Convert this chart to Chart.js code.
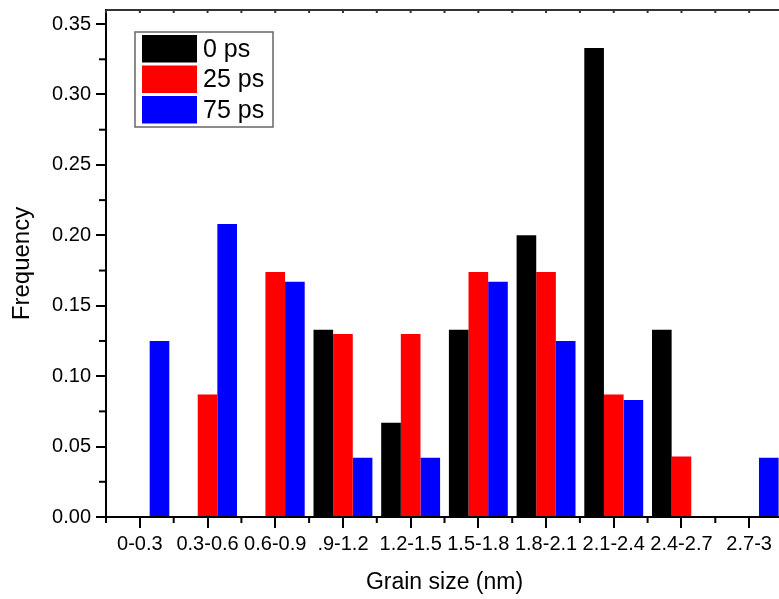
<!DOCTYPE html>
<html>
<head>
<meta charset="utf-8">
<script src="https://cdn.jsdelivr.net/npm/chart.js@4/dist/chart.umd.min.js"></script>
<style>
  html, body { margin: 0; padding: 0; background: #fff; overflow: hidden; }
  #wrap { width: 790px; height: 599px; }
</style>
</head>
<body>
<div id="wrap"><canvas id="barChart" width="790" height="599"></canvas></div>
<script>
// grain size bins
const categories = ['0-0.3', '0.3-0.6', '0.6-0.9', '.9-1.2', '1.2-1.5', '1.5-1.8', '1.8-2.1', '2.1-2.4', '2.4-2.7', '2.7-3'];
const seriesNames = ['0 ps', '25 ps', '75 ps'];
const seriesColors = ['#000000', '#ff0000', '#0000ff'];

// frequency values
const freq0ps = [0, 0, 0, 0.133, 0.067, 0.133, 0.200, 0.333, 0.133, 0];
const freq25ps = [0, 0.087, 0.174, 0.130, 0.130, 0.174, 0.174, 0.087, 0.043, 0];
const freq75ps = [0.125, 0.208, 0.167, 0.042, 0.042, 0.167, 0.125, 0.083, 0, 0.042];

const yTicks = [0, 0.05, 0.10, 0.15, 0.20, 0.25, 0.30, 0.35];

Chart.defaults.font.family = '"Liberation Sans", Arial, sans-serif';
Chart.defaults.color = '#000';

function line(ctx, x1, y1, x2, y2) {
  ctx.beginPath();
  ctx.moveTo(x1, y1);
  ctx.lineTo(x2, y2);
  ctx.stroke();
}

// minor ticks, frame and the boxed legend
const decor = {
  id: 'decor',
  afterDraw(chart) {
    const { ctx, chartArea: a, scales: { x, y } } = chart;
    ctx.save();
    ctx.strokeStyle = '#000';
    ctx.lineWidth = 2;
    // bottom axis line again, over the bars
    line(ctx, a.left - 1, a.bottom, a.right, a.bottom);
    // minor y ticks
    yTicks.forEach(v => {
      const m = v + 0.025;
      if (m > y.max) return;
      const py = y.getPixelForValue(m);
      line(ctx, a.left - 7, py, a.left, py);
    });
    // x ticks between bins
    for (let i = 0; i <= categories.length; i++) {
      const px = x.getPixelForValue(i - 0.5);
      line(ctx, px, a.bottom, px, a.bottom + 6);
    }
    // top and right frame
    ctx.strokeStyle = '#333';
    line(ctx, a.left, a.top, a.right, a.top);
    line(ctx, a.right, a.top, a.right, a.bottom);
    for (let i = 0; i < categories.length * 2; i++) {
      const px = x.getPixelForValue(i / 2 - 0.5);
      line(ctx, px, a.top, px, a.top + 3);
    }

    // legend
    const bx = a.left + 29, by = a.top + 22;
    ctx.strokeStyle = '#666';
    ctx.lineWidth = 1.5;
    ctx.strokeRect(bx, by, 138, 95);
    ctx.font = '25px "Liberation Sans", Arial, sans-serif';
    ctx.textBaseline = 'middle';
    ctx.textAlign = 'left';
    chart.data.datasets.forEach((ds, i) => {
      const ry = by + 3 + i * 30.5;
      ctx.fillStyle = ds.backgroundColor;
      ctx.fillRect(bx + 7, ry, 55, 27.5);
      ctx.fillStyle = '#000';
      ctx.fillText(ds.label, bx + 68, ry + 15);
    });
    ctx.restore();
  }
};

const ctx = document.getElementById('barChart').getContext('2d');
const barChart = new Chart(ctx, {
  type: 'bar',
  data: {
    labels: categories,
    datasets: [
      { label: seriesNames[0], data: freq0ps, backgroundColor: seriesColors[0] },
      { label: seriesNames[1], data: freq25ps, backgroundColor: seriesColors[1] },
      { label: seriesNames[2], data: freq75ps, backgroundColor: seriesColors[2] }
    ]
  },
  options: {
    responsive: false,
    animation: false,
    devicePixelRatio: 1,
    layout: { padding: { top: 10, right: 7, left: 0, bottom: 0 } },
    datasets: {
      bar: { categoryPercentage: 0.87, barPercentage: 1, borderWidth: 0 }
    },
    plugins: {
      legend: { display: false },
      tooltip: { enabled: false }
    },
    scales: {
      x: {
        grid: { display: true, drawOnChartArea: false, offset: false, tickLength: 11, color: '#000', lineWidth: 2 },
        border: { display: true, color: '#000', width: 2 },
        ticks: { font: { size: 20 }, padding: 4, maxRotation: 0, autoSkip: false },
        title: { display: true, text: 'Grain size (nm)', font: { size: 23 }, padding: { top: 0, bottom: 3 } },
        afterFit: s => { s.height = 82; s.paddingLeft = 0; s.paddingRight = 0; }
      },
      y: {
        min: 0,
        max: 0.36,
        afterBuildTicks: s => { s.ticks = yTicks.map(v => ({ value: v })); },
        grid: { display: true, drawOnChartArea: false, tickLength: 10, color: '#000', lineWidth: 2 },
        border: { display: true, color: '#000', width: 2 },
        ticks: { font: { size: 20, lineHeight: 1 }, padding: 5, callback: v => Number(v).toFixed(2) },
        title: { display: true, text: 'Frequency', font: { size: 24 }, padding: { top: 8, bottom: 0 } },
        afterFit: s => { s.width = 106; s.paddingTop = 10; s.paddingBottom = 10; }
      }
    }
  },
  plugins: [decor]
});
</script>
</body>
</html>
